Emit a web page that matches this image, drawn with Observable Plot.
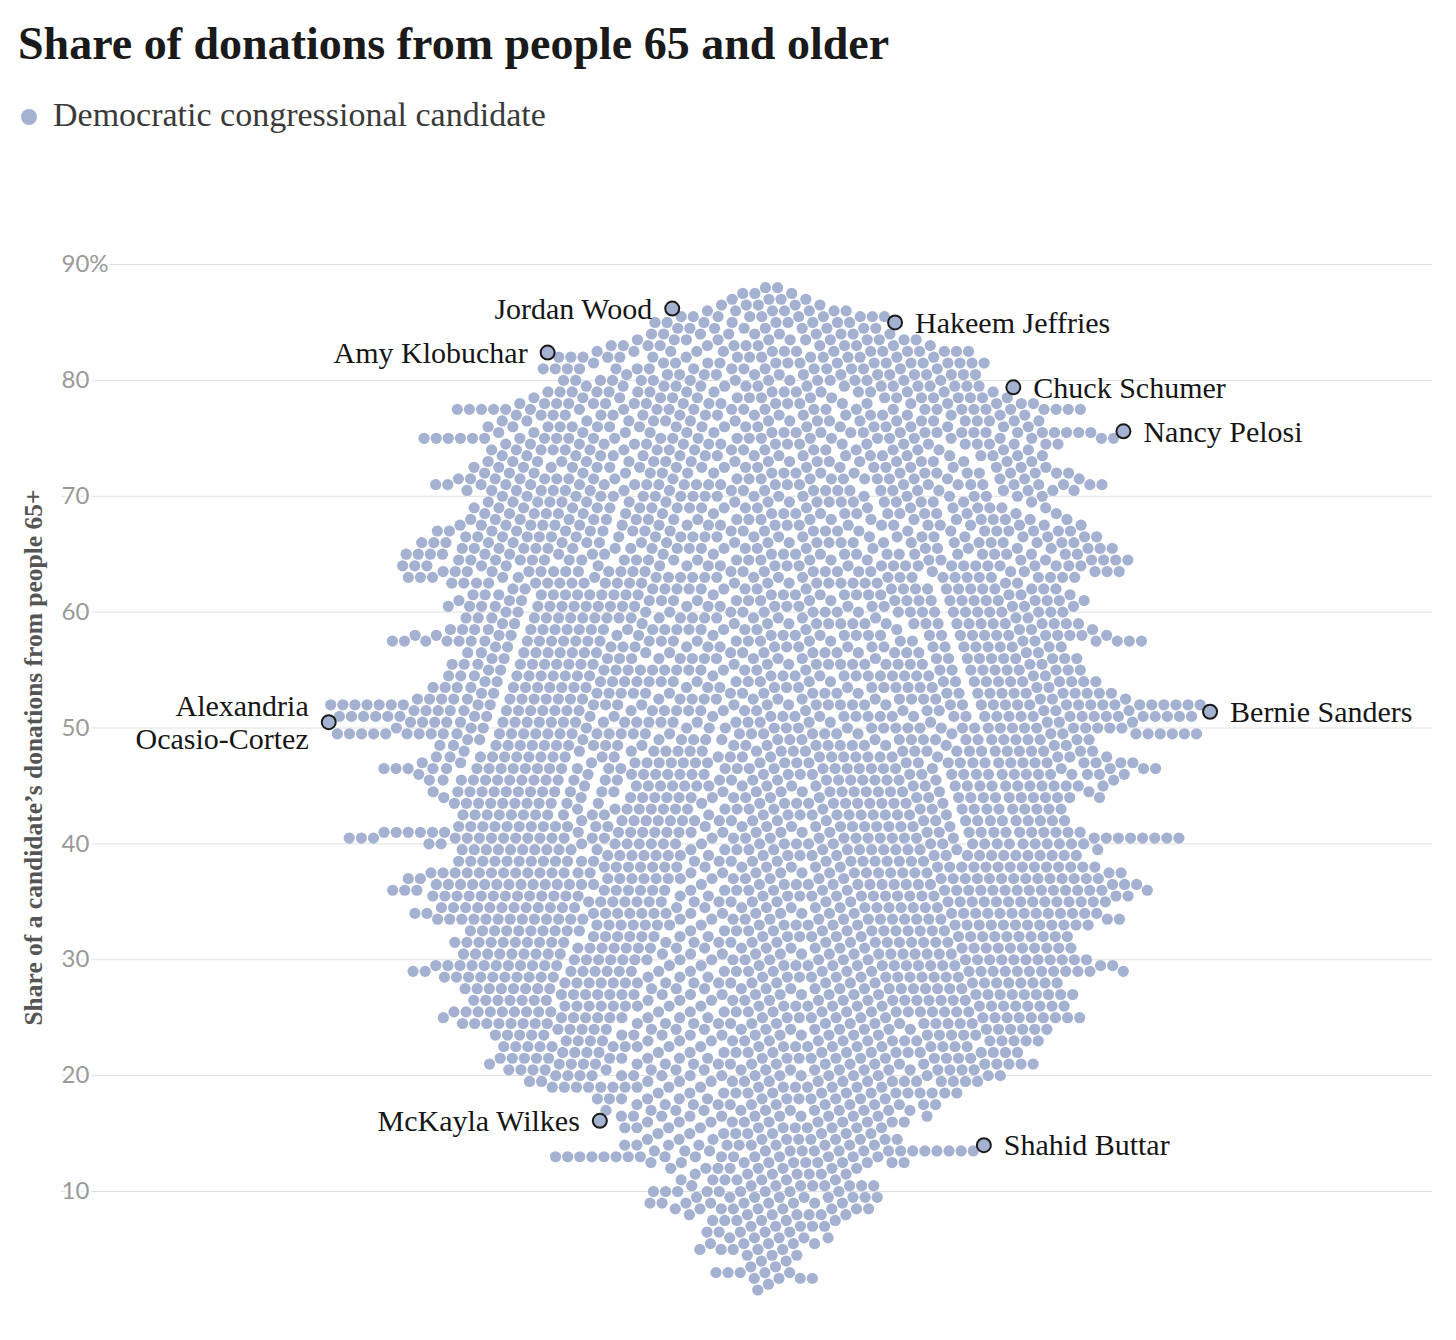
<!DOCTYPE html>
<html>
<head>
<meta charset="utf-8">
<script src="https://cdn.jsdelivr.net/npm/d3@7"></script>
<script src="https://cdn.jsdelivr.net/npm/@observablehq/plot@0.6"></script>
<style>
  html, body { margin: 0; padding: 0; background: #ffffff; }
  #wrap { position: relative; width: 1456px; height: 1340px; overflow: hidden; }
  #title { position: absolute; left: 18px; top: 21px; font-family: "Liberation Serif", serif; font-weight: bold; font-size: 46px; line-height: 1; color: #1a1a1a; white-space: nowrap; }
  #legend-dot { position: absolute; left: 21px; top: 109px; width: 16px; height: 16px; border-radius: 50%; background: #a4b1d1; }
  #legend-text { position: absolute; left: 53px; top: 98px; font-family: "Liberation Serif", serif; font-size: 34px; line-height: 1; color: #3a3a3a; white-space: nowrap; }
  #chart { position: absolute; left: 0; top: 150px; }
</style>
</head>
<body>
<div id="wrap">
  <div id="title">Share of donations from people 65 and older</div>
  <div id="legend-dot"></div>
  <div id="legend-text">Democratic congressional candidate</div>
  <div id="chart"></div>
</div>
<script>
// ---- Data ----
// Share (%) levels of the swarm, 0.5-point bins, top to bottom
const binShare = [
  88, 87.5, 87, 86.5, 86, 85.5, 85, 84.5, 84, 83.5,
  83, 82.5, 82, 81.5, 81, 80.5, 80, 79.5, 79, 78.5,
  78, 77.5, 77, 76.5, 76, 75.5, 75, 74.5, 74, 73.5,
  73, 72.5, 72, 71.5, 71, 70.5, 70, 69.5, 69, 68.5,
  68, 67.5, 67, 66.5, 66, 65.5, 65, 64.5, 64, 63.5,
  63, 62.5, 62, 61.5, 61, 60.5, 60, 59.5, 59, 58.5,
  58, 57.5, 57, 56.5, 56, 55.5, 55, 54.5, 54, 53.5,
  53, 52.5, 52, 51.5, 51, 50.5, 50, 49.5, 49, 48.5,
  48, 47.5, 47, 46.5, 46, 45.5, 45, 44.5, 44, 43.5,
  43, 42.5, 42, 41.5, 41, 40.5, 40, 39.5, 39, 38.5,
  38, 37.5, 37, 36.5, 36, 35.5, 35, 34.5, 34, 33.5,
  33, 32.5, 32, 31.5, 31, 30.5, 30, 29.5, 29, 28.5,
  28, 27.5, 27, 26.5, 26, 25.5, 25, 24.5, 24, 23.5,
  23, 22.5, 22, 21.5, 21, 20.5, 20, 19.5, 19, 18.5,
  18, 17.5, 17, 16.5, 16, 15.5, 15, 14.5, 14, 13.5,
  13, 12.5, 12, 11.5, 11, 10.5, 10, 9.5, 9, 8.5,
  8, 7.5, 7, 6.5, 6, 5.5, 5, 4.5, 4, 3.5,
  3, 2.5, 2, 1.5
];
// Number of candidates in each bin (estimated from the swarm's width)
const binCount = [
  2, 3, 4, 5, 7, 10, 9, 9, 10, 12,
  13, 16, 16, 17, 17, 16, 16, 17, 18, 19,
  21, 28, 20, 21, 21, 25, 28, 22, 21, 21,
  21, 22, 23, 24, 27, 24, 21, 21, 22, 22,
  23, 24, 25, 25, 26, 26, 27, 27, 27, 27,
  27, 24, 23, 24, 25, 25, 23, 23, 24, 25,
  27, 31, 23, 23, 24, 24, 25, 25, 26, 26,
  27, 28, 40, 28, 38, 28, 29, 39, 25, 25,
  25, 27, 29, 32, 28, 27, 26, 26, 26, 24,
  24, 24, 24, 25, 31, 36, 27, 26, 25, 25,
  27, 29, 29, 30, 31, 29, 28, 26, 29, 29,
  26, 24, 24, 25, 25, 24, 26, 28, 29, 26,
  24, 24, 25, 23, 24, 25, 26, 24, 22, 21,
  21, 21, 20, 21, 22, 20, 18, 18, 17, 15,
  13, 13, 12, 12, 11, 11, 9, 11, 11, 17,
  17, 11, 8, 7, 7, 9, 9, 9, 9, 9,
  7, 6, 5, 5, 5, 5, 5, 3, 2, 2,
  5, 4, 1, 1
];
// Highlighted candidates
const hlName  = ["Jordan Wood", "Hakeem Jeffries", "Amy Klobuchar", "Chuck Schumer", "Nancy Pelosi",
                 "Bernie Sanders", "Alexandria\nOcasio-Cortez", "McKayla Wilkes", "Shahid Buttar"];
const hlShare = [86.2, 85.0, 82.4, 79.4, 75.6, 51.4, 50.5, 16.1, 14.0];
const hlSide  = ["left", "right", "left", "right", "right", "right", "left", "left", "right"];
// Axis
const tickValues = [10, 20, 30, 40, 50, 60, 70, 80, 90];
const tickLabels = ["10", "20", "30", "40", "50", "60", "70", "80", "90%"];
const yTitle = "Share of a candidate\u2019s donations from people 65+";

// ---- Layout settings ----
const W = 1456, H = 1190;
const Y_DOMAIN = [10, 90], Y_RANGE = [1041, 114];
const CENTER_X = 765, FRAME_L = 61, FRAME_R = 1432;
const DOT_R = 5.6, DOT_PAD = 0.9;
const DOT_FILL = "#a4b1d1";

const yPix = d3.scaleLinear(Y_DOMAIN, Y_RANGE);

// One entry per candidate, interleaving bins so the swarm packs evenly
const items = [];
const maxCount = d3.max(binCount);
for (let p = 0; p < maxCount; p++) {
  for (let i = 0; i < binShare.length; i++) {
    if (p < binCount[i]) items.push({share: binShare[i], side: null, name: null});
  }
}
hlName.forEach((n, i) => items.push({share: hlShare[i], side: hlSide[i], name: n}));

// Beeswarm (dodge) layout along x, same greedy rule as Plot's dodge
function swarm(list) {
  const D = 2 * DOT_R + DOT_PAD;
  const buckets = new Map();
  const out = [];
  for (const it of list) {
    const y = yPix(it.share);
    const b = Math.floor(y / D);
    const iv = [];
    for (let k = b - 1; k <= b + 1; k++) {
      const arr = buckets.get(k);
      if (!arr) continue;
      for (const q of arr) {
        const dy = q.py - y;
        if (dy >= D || dy <= -D) continue;
        const dx = Math.sqrt(D * D - dy * dy);
        iv.push([q.off - dx, q.off + dx]);
      }
    }
    iv.sort((a, c) => a[0] - c[0]);
    const merged = [];
    for (const s of iv) {
      const last = merged[merged.length - 1];
      if (last && s[0] < last[1] - 1e-6) { if (s[1] > last[1]) last[1] = s[1]; }
      else merged.push([s[0], s[1]]);
    }
    let off = 0;
    if (it.side === "right") off = merged.length ? Math.max(0, merged[merged.length - 1][1]) : 0;
    else if (it.side === "left") off = merged.length ? Math.min(0, merged[0][0]) : 0;
    else {
      const c = merged.find(m => m[0] + 1e-6 < 0 && 0 < m[1] - 1e-6);
      if (c) off = (-c[0] <= c[1]) ? c[0] : c[1];
    }
    const p = {...it, off, py: y};
    if (!buckets.has(b)) buckets.set(b, []);
    buckets.get(b).push(p);
    out.push(p);
  }
  return out;
}

const placed = swarm(items);
const crowd = placed.filter(d => !d.name);
const highlights = placed.filter(d => d.name);

const labelFont = {fontFamily: "Liberation Serif", fontSize: 30, fill: "#161616", lineAnchor: "middle", lineHeight: 1.07};

const chart = Plot.plot({
  width: W,
  height: H,
  marginLeft: FRAME_L,
  marginRight: W - FRAME_R,
  marginTop: 24,
  marginBottom: 0,
  style: {background: "transparent", overflow: "visible"},
  x: {domain: [FRAME_L - CENTER_X, FRAME_R - CENTER_X], range: [FRAME_L, FRAME_R], axis: null},
  y: {domain: Y_DOMAIN, range: Y_RANGE, axis: null},
  marks: [
    Plot.ruleY(tickValues, {stroke: "#e0e0e0", strokeWidth: 1}),
    Plot.text(tickValues, {
      y: d => d, text: (d, i) => tickLabels[i], frameAnchor: "left", textAnchor: "start",
      fill: "#9a9a9a", stroke: "white", strokeWidth: 5, fontFamily: "Lato", fontSize: 24, lineAnchor: "middle"
    }),
    Plot.text([yTitle], {
      text: d => d, frameAnchor: "left", rotate: -90, dx: -28, textAnchor: "middle", lineAnchor: "middle",
      fontFamily: "Liberation Serif", fontWeight: "bold", fontSize: 25.5, fill: "#555555"
    }),
    Plot.dot(crowd, {x: "off", y: "share", r: DOT_R, fill: DOT_FILL}),
    Plot.dot(highlights, {x: "off", y: "share", r: 7, fill: DOT_FILL, stroke: "#1b1b1b", strokeWidth: 2}),
    Plot.text(highlights.filter(d => d.side === "right"), {
      x: "off", y: "share", text: "name", dx: 20, textAnchor: "start", ...labelFont
    }),
    Plot.text(highlights.filter(d => d.side === "left"), {
      x: "off", y: "share", text: "name", dx: -20, textAnchor: "end", ...labelFont
    })
  ]
});
document.getElementById("chart").appendChild(chart);
</script>
</body>
</html>
